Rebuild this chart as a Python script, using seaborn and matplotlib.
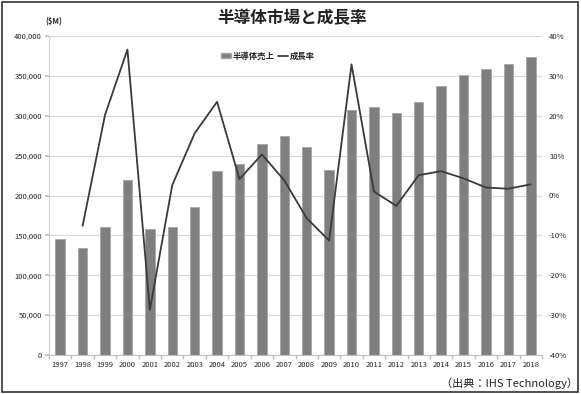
import numpy as np
import pandas as pd
import matplotlib
matplotlib.use("Agg")
import matplotlib.pyplot as plt
import seaborn as sns
from matplotlib.patches import Rectangle
from matplotlib.ticker import FuncFormatter

years = [str(y) for y in range(1997, 2019)]
sales = [145000, 134000, 161000, 220000, 157500, 161000, 186000, 230500, 240000,
         264500, 274500, 261000, 231500, 307000, 310500, 303000, 317500, 337500,
         351000, 358500, 365000, 374000]
growth_years = [str(y) for y in range(1998, 2019)]
growth = [-7.6, 20.2, 36.6, -28.7, 2.6, 15.6, 23.5, 4.1, 10.3, 3.8, -5.7, -11.3,
          32.9, 1.0, -2.6, 5.1, 6.1, 4.3, 2.0, 1.7, 2.8]

title = "半導体市場と成長率"
bar_label = "半導体売上"
line_label = "成長率"
unit_label = "($M)"
source_label = "（出典：IHS Technology）"

sns.set_theme(style="white")
plt.rcParams['font.family'] = ['Noto Sans CJK JP', 'DejaVu Sans']

W, H = 581, 394
fig = plt.figure(figsize=(W / 100, H / 100), dpi=100)
ax = fig.add_axes([49 / W, (H - 355) / H, (542 - 49) / W, (355 - 36) / H])

df = pd.DataFrame({"year": years, "sales": sales})
sns.barplot(data=df, x="year", y="sales", ax=ax, color="#7f7f7f", width=0.42,
            edgecolor="#a6a6a6", linewidth=0.6, saturation=1, zorder=2)
ax.set_ylim(0, 400000)
ax.set_xlim(-0.5, len(years) - 0.5)
ax.set_yticks(np.arange(0, 400001, 50000))
ax.yaxis.set_major_formatter(FuncFormatter(lambda v, p: f"{int(v):,}"))
ax.set_xlabel("")
ax.set_ylabel("")
ax.grid(axis="y", color="#d9d9d9", linewidth=0.8, zorder=0)
ax.set_axisbelow(True)
for s in ["top", "right"]:
    ax.spines[s].set_visible(False)
ax.spines["left"].set_color("#d0d0d0")
ax.spines["left"].set_linewidth(0.8)
ax.spines["bottom"].set_color("#bfbfbf")
ax.spines["bottom"].set_linewidth(0.8)
ax.tick_params(axis="y", labelsize=5.5, length=3, color="#bfbfbf", left=True, pad=2)
ax.tick_params(axis="x", labelsize=5.5, length=0, pad=4)
ax.set_xticks(np.arange(-0.5, len(years), 1.0), minor=True)
ax.tick_params(axis="x", which="minor", length=3, color="#bfbfbf", bottom=True)

ax2 = ax.twinx()
gx = [years.index(y) for y in growth_years]
sns.lineplot(x=gx, y=growth, ax=ax2, color="#3a3a3a", linewidth=1.3, zorder=3)
ax2.set_ylim(-40, 40)
ax2.set_yticks(np.arange(-40, 41, 10))
ax2.yaxis.set_major_formatter(FuncFormatter(lambda v, p: f"{int(v)}%"))
ax2.tick_params(axis="y", labelsize=5.5, length=0, pad=5)
for s in ["top", "right", "left", "bottom"]:
    ax2.spines[s].set_visible(False)
ax2.set_ylabel("")

# legend
from matplotlib.patches import Patch
from matplotlib.lines import Line2D
handles = [Patch(facecolor="#7f7f7f", edgecolor="#a6a6a6", label=bar_label),
           Line2D([0], [0], color="#3a3a3a", linewidth=1.3, label=line_label)]
leg = fig.legend(handles=handles, loc="center", bbox_to_anchor=(268 / W, (H - 56) / H),
                 ncol=2, frameon=False, fontsize=6, handlelength=1.2, handleheight=0.6,
                 handletextpad=0.2, columnspacing=0.4)
for t in leg.get_texts():
    t.set_fontweight("bold")

fig.text(292 / W, (H - 18) / H, title, ha="center", va="center", fontsize=12,
         fontweight="bold", color="#222222")
fig.text(54 / W, (H - 22) / H, unit_label, ha="center", va="center", fontsize=5.5,
         fontweight="bold")
fig.text(578 / W, (H - 383) / H, source_label, ha="right", va="center", fontsize=8,
         color="#222222")

fig.patches.append(Rectangle((1.5 / W, 2 / H), (578 - 1.5) / W, (392.5 - 2) / H,
                             transform=fig.transFigure, fill=False,
                             edgecolor="#333333", linewidth=1.2))

fig.savefig("out.png", dpi=100)
